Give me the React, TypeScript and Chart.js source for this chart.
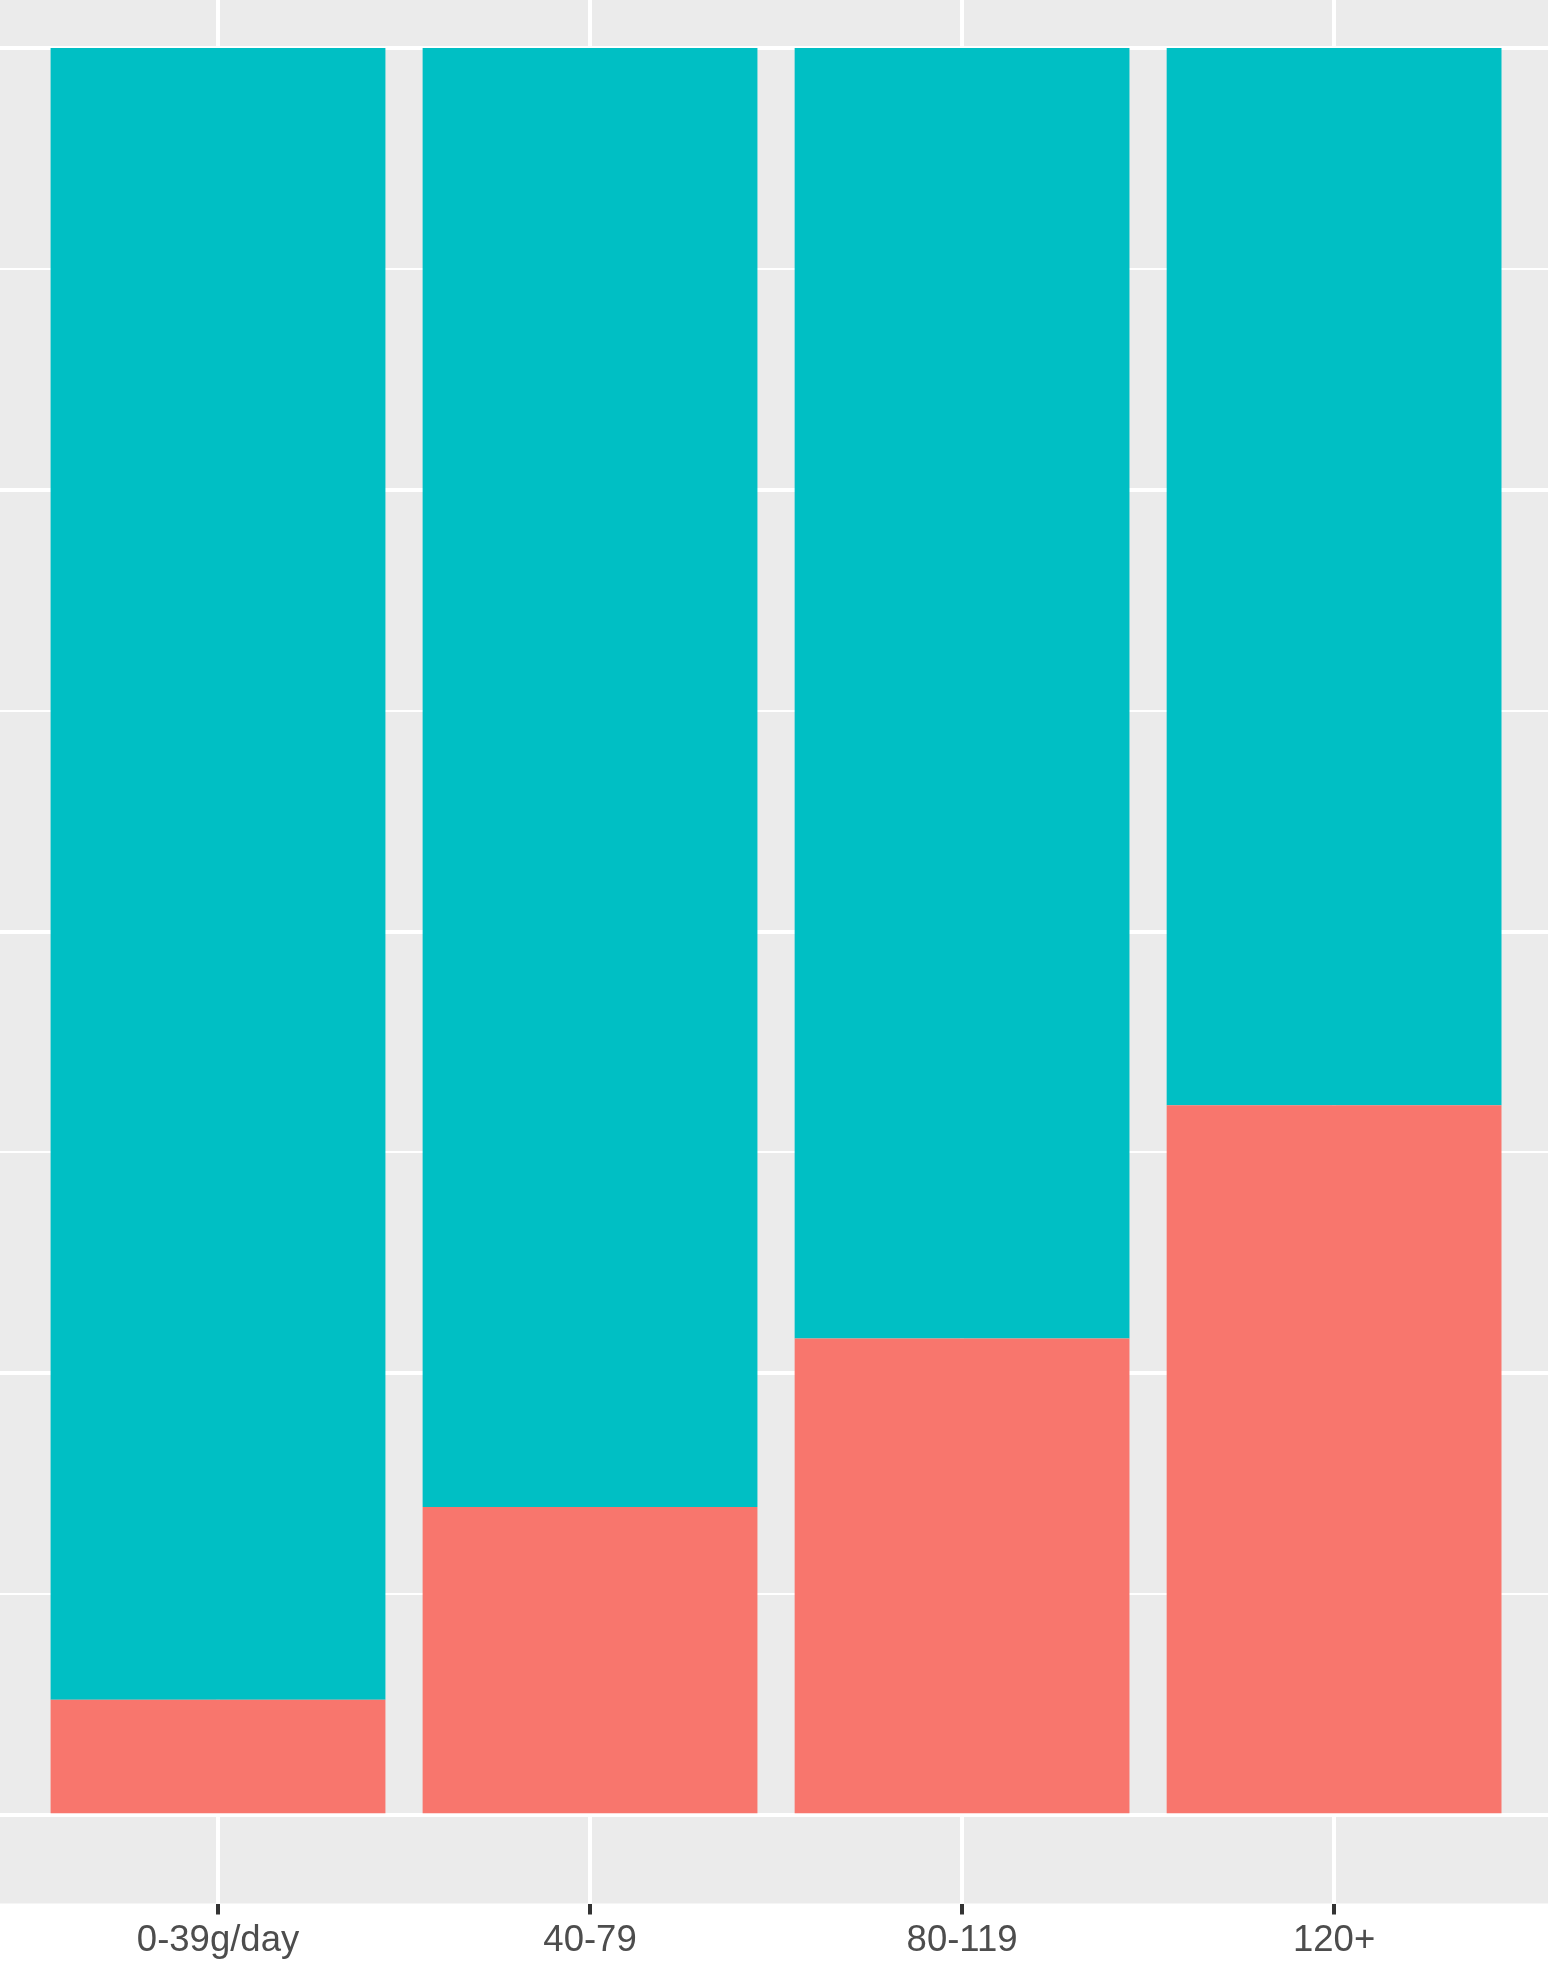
import React, { useEffect, useRef } from "react";
import { Chart, registerables } from "chart.js";

Chart.register(...registerables);

// Alcohol consumption groups (x categories)
const categories = ["0-39g/day", "40-79", "80-119", "120+"];
const categoryPositions = [1, 2, 3, 4];

// Proportions per group (stacked to 1)
const caseShare = [0.0653, 0.1744, 0.2698, 0.4018];
const controlShare = [0.9347, 0.8256, 0.7302, 0.5982];

// Y grid positions (major every 0.25, minor in between)
const yGridValues = [0, 0.125, 0.25, 0.375, 0.5, 0.625, 0.75, 0.875, 1];

const panelBackground = {
  id: "panelBackground",
  beforeDraw(chart: any) {
    const { ctx, chartArea } = chart;
    if (!chartArea) return;
    ctx.save();
    ctx.fillStyle = "#EBEBEB";
    ctx.fillRect(chartArea.left, chartArea.top, chartArea.right - chartArea.left, chartArea.bottom - chartArea.top);
    ctx.restore();
  },
};

export default function App() {
  const canvasRef = useRef<HTMLCanvasElement | null>(null);

  useEffect(() => {
    document.body.style.margin = "0";
    const canvas = canvasRef.current;
    if (!canvas) return;
    const chart = new Chart(canvas, {
      type: "bar",
      data: {
        datasets: [
          {
            label: "cases",
            data: categoryPositions.map((x, i) => ({ x, y: caseShare[i] })),
            backgroundColor: "#F8766D",
            borderWidth: 0,
            barPercentage: 0.9,
            categoryPercentage: 1.0,
          },
          {
            label: "controls",
            data: categoryPositions.map((x, i) => ({ x, y: controlShare[i] })),
            backgroundColor: "#00BFC4",
            borderWidth: 0,
            barPercentage: 0.9,
            categoryPercentage: 1.0,
          },
        ],
      },
      options: {
        responsive: false,
        animation: false,
        layout: { padding: 0 },
        plugins: {
          legend: { display: false },
          tooltip: { enabled: false },
        },
        scales: {
          x: {
            type: "linear",
            min: 0.414,
            max: 4.575,
            stacked: true,
            offset: false,
            afterBuildTicks: (scale: any) => {
              scale.ticks = categoryPositions.map((v) => ({ value: v }));
            },
            afterFit: (scale: any) => {
              scale.height = 60.5;
            },
            grid: {
              offset: false,
              color: "#FFFFFF",
              lineWidth: 4,
              drawTicks: true,
              tickLength: 11,
              tickWidth: 4,
              tickColor: "#333333",
            },
            border: { display: false },
            ticks: {
              autoSkip: false,
              maxRotation: 0,
              padding: 5,
              color: "#4D4D4D",
              font: { family: "'Liberation Sans', Arial, sans-serif", size: 36.5 },
              callback: (v: any) => {
                const idx = categoryPositions.indexOf(Number(v));
                return idx >= 0 ? categories[idx] : "";
              },
            },
          },
          y: {
            type: "linear",
            min: -0.05,
            max: 1.0272,
            stacked: true,
            afterBuildTicks: (scale: any) => {
              scale.ticks = yGridValues.map((v) => ({ value: v }));
            },
            afterFit: (scale: any) => {
              scale.width = 0;
            },
            grid: {
              color: "#FFFFFF",
              lineWidth: (ctx: any) => {
                const v = ctx.tick ? ctx.tick.value : 0;
                return Math.abs((v / 0.25) - Math.round(v / 0.25)) < 1e-6 ? 4 : 2;
              },
              drawTicks: false,
            },
            border: { display: false },
            ticks: { display: false },
          },
        },
      },
      plugins: [panelBackground],
    } as any);
    return () => chart.destroy();
  }, []);

  return (
    <div style={{ width: 1548, height: 1964, position: "relative" }}>
      <canvas ref={canvasRef} width={1548} height={1964} style={{ display: "block" }} />
    </div>
  );
}
